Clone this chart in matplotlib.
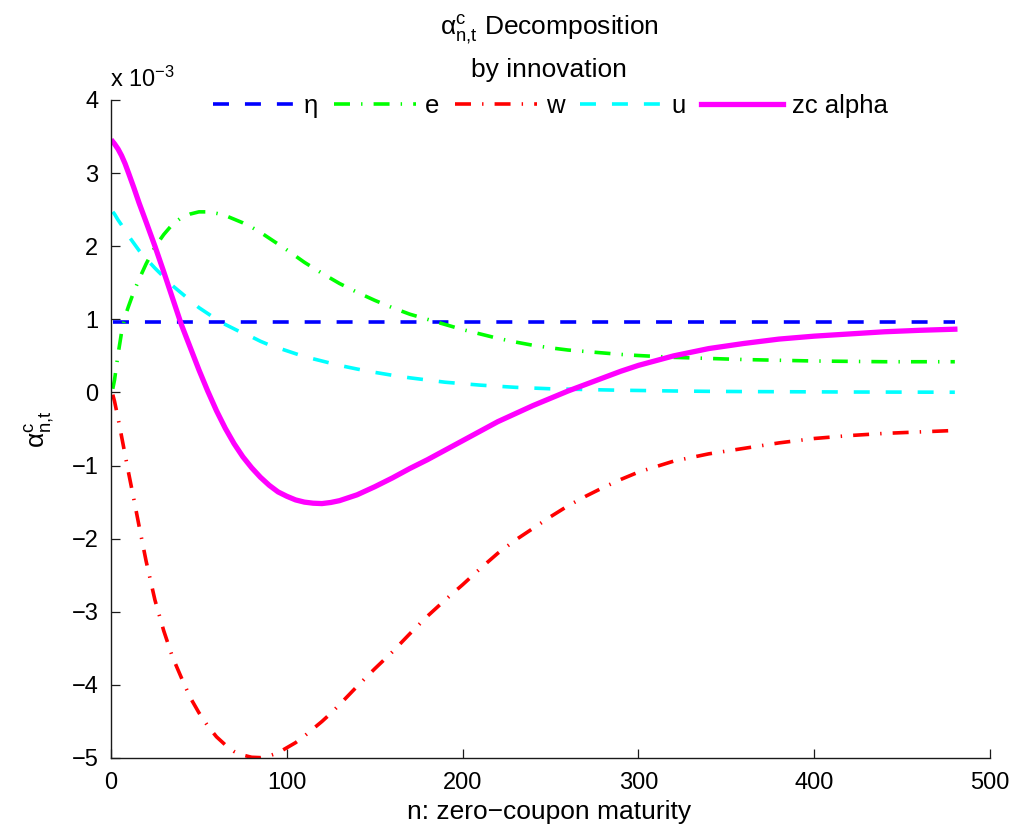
import numpy as np
import matplotlib
matplotlib.use("Agg")
import matplotlib.pyplot as plt

plt.rcParams['font.family'] = ['Liberation Sans', 'DejaVu Sans']
plt.rcParams['mathtext.fontset'] = 'custom'
plt.rcParams['mathtext.rm'] = 'Liberation Sans'
plt.rcParams['mathtext.it'] = 'Liberation Sans'
plt.rcParams['mathtext.default'] = 'regular'
plt.rcParams['lines.scale_dashes'] = False

# Maturity grid (months) and alpha components, in units of 1e-3
n = [1, 2, 4, 6, 8, 10, 13, 16, 20, 25, 30, 35, 40, 45, 50, 55, 60, 65, 70, 75,
     80, 85, 90, 95, 100, 105, 110, 115, 120, 125, 130,
     140, 150, 160, 170, 180, 190, 200, 210, 220, 230, 240, 250, 260, 270, 280,
     290, 300, 320, 340, 360, 380, 400, 420, 440, 460, 480]

eta_level = 0.965
eta = [eta_level] * len(n)

e_innov = [0.05, 0.17, 0.52, 0.82, 1.04, 1.18, 1.38, 1.55, 1.76, 1.99, 2.16, 2.30,
           2.39, 2.44, 2.47, 2.47, 2.45, 2.42, 2.37, 2.32, 2.26, 2.19, 2.11, 2.03,
           1.95, 1.865, 1.78, 1.705, 1.63, 1.56, 1.49,
           1.37, 1.26, 1.16, 1.07, 1.00, 0.93, 0.86, 0.80, 0.74, 0.69, 0.645, 0.61,
           0.58, 0.56, 0.54, 0.52, 0.505,
           0.48, 0.465, 0.45, 0.44, 0.43, 0.425, 0.42, 0.42, 0.42]

w_innov = [-0.03, -0.12, -0.35, -0.60, -0.85, -1.10, -1.46, -1.83, -2.31, -2.84,
           -3.26, -3.62, -3.90, -4.17, -4.38, -4.56, -4.71, -4.82, -4.91, -4.96,
           -4.99, -4.995, -4.97, -4.93, -4.86, -4.79, -4.70, -4.60, -4.50, -4.39,
           -4.27,
           -4.02, -3.78, -3.55, -3.30, -3.06, -2.84, -2.63, -2.41, -2.20, -2.02,
           -1.86, -1.70, -1.55, -1.42, -1.30, -1.19, -1.09,
           -0.94, -0.84, -0.765, -0.69, -0.63, -0.59, -0.56, -0.54, -0.52]

u_innov = [2.47, 2.44, 2.36, 2.29, 2.21, 2.14, 2.04, 1.94, 1.83, 1.70, 1.58, 1.46,
           1.36, 1.26, 1.16, 1.08, 1.00, 0.93, 0.87, 0.81, 0.76, 0.70, 0.65, 0.61,
           0.57, 0.53, 0.49, 0.46, 0.43, 0.40, 0.37,
           0.32, 0.275, 0.235, 0.20, 0.17, 0.14, 0.12, 0.10, 0.085, 0.07, 0.06, 0.05,
           0.045, 0.04, 0.035, 0.03, 0.027,
           0.02, 0.015, 0.012, 0.01, 0.008, 0.006, 0.005, 0.004, 0.003]

zc_alpha = [3.43, 3.40, 3.33, 3.24, 3.13, 3.00, 2.80, 2.59, 2.33, 2.00, 1.65, 1.29,
            0.93, 0.62, 0.31, 0.02, -0.25, -0.49, -0.70, -0.88, -1.03, -1.16, -1.27,
            -1.36, -1.42, -1.47, -1.50, -1.515, -1.52, -1.505, -1.48,
            -1.40, -1.29, -1.17, -1.04, -0.92, -0.79, -0.66, -0.53, -0.40, -0.29,
            -0.18, -0.08, 0.02, 0.11, 0.20, 0.29, 0.37,
            0.50, 0.60, 0.67, 0.73, 0.77, 0.80, 0.83, 0.85, 0.865]

series_labels = ['\u03b7', 'e', 'w', 'u', 'zc alpha']
x_ticks = [0, 100, 200, 300, 400, 500]
y_ticks = [-5, -4, -3, -2, -1, 0, 1, 2, 3, 4]

fig = plt.figure(figsize=(10.17, 8.30), dpi=100)
ax = fig.add_axes([111 / 1017, 1 - 758 / 830, (990 - 111) / 1017, (758 - 100) / 830])

dash = (0, (11.5, 11.5))
dashdot = (0, (11.5, 8, 1, 8))
lw = 2.6
common = dict(solid_joinstyle='round', dash_joinstyle='round')
ax.plot(n, eta, color=(0, 0, 1), lw=lw, linestyle=dash, label=series_labels[0], **common)
ax.plot(n, e_innov, color=(0, 1, 0), lw=lw, linestyle=dashdot, label=series_labels[1], **common)
ax.plot(n, w_innov, color=(1, 0, 0), lw=lw, linestyle=dashdot, label=series_labels[2], **common)
ax.plot(n, u_innov, color=(0, 1, 1), lw=lw, linestyle=dash, label=series_labels[3], **common)
ax.plot(n, zc_alpha, color=(1, 0, 1), lw=3.8, linestyle='-', label=series_labels[4], **common)

ax.set_xlim(0, 500)
ax.set_ylim(-5, 4)
ax.set_xticks(x_ticks)
ax.set_yticks(y_ticks)
for s in ('top', 'right'):
    ax.spines[s].set_visible(False)
for s in ('left', 'bottom'):
    ax.spines[s].set_linewidth(1.0)
    ax.spines[s].set_color('#1a1a1a')
ax.tick_params(direction='in', length=6.3, width=0.9, labelsize=17, colors='#1a1a1a',
               labelcolor='black')
ax.tick_params(axis='x', pad=10)
ax.tick_params(axis='y', pad=9)

leg = ax.legend(loc='center', bbox_to_anchor=(0.5, 1 - 6 / 658), ncol=5, frameon=False,
                fontsize=18.5, handlelength=3.2, handletextpad=0.35, columnspacing=0.6,
                borderaxespad=0, borderpad=0)

fig.text(549 / 1017, 1 - 35 / 830, r'$\alpha^{c}_{n{,}t}$ Decomposition', ha='center',
         va='baseline', fontsize=19)
fig.text(549 / 1017, 1 - 77 / 830, 'by innovation', ha='center', va='baseline', fontsize=19)
fig.text(549 / 1017, 1 - 819 / 830, 'n: zero\u2212coupon maturity', ha='center',
         va='baseline', fontsize=19)
fig.text(40.5 / 1017, 1 - 429 / 830, r'$\alpha^{c}_{n{,}t}$', rotation=90, ha='center',
         va='center', fontsize=19)
fig.text(110 / 1017, 1 - 87 / 830, r'x 10$^{-3}$', ha='left', va='baseline', fontsize=17)

fig.savefig('out.png', dpi=100)
